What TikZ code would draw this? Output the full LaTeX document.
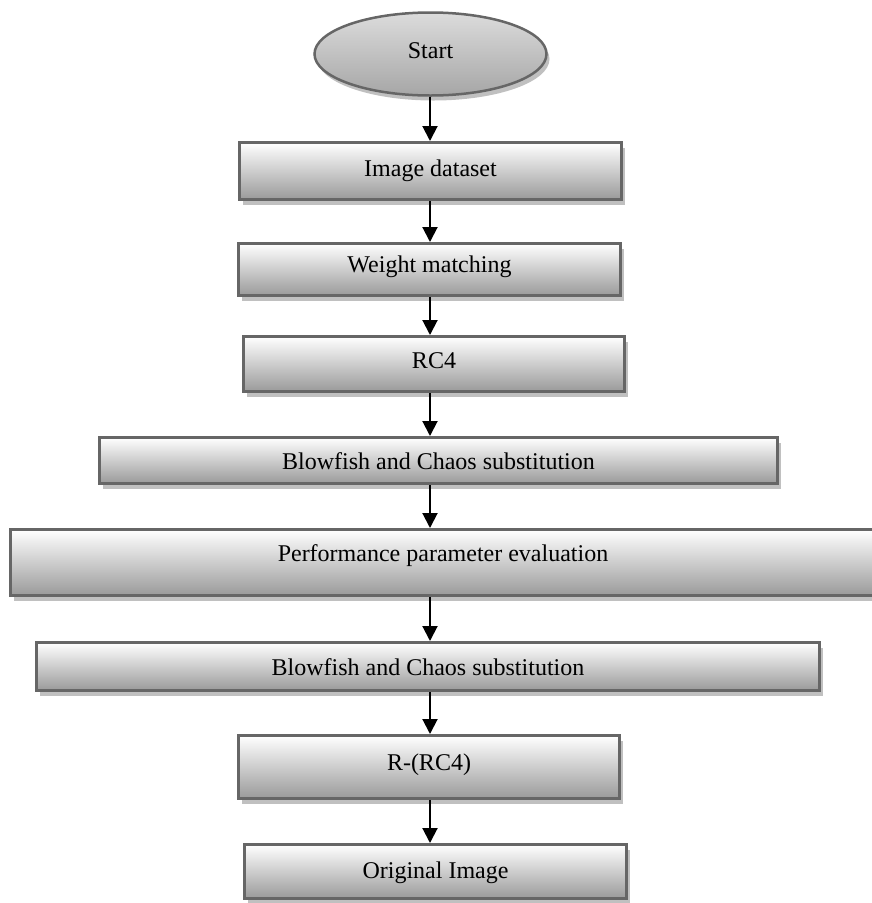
\documentclass[tikz,border=0pt]{standalone}
\usepackage{fontspec}
\setmainfont{Liberation Serif}
\usetikzlibrary{shapes.geometric,shadows,arrows.meta}
\definecolor{bordergray}{HTML}{666666}
\definecolor{shadowgray}{HTML}{C0C0C0}
\definecolor{botgray}{HTML}{9A9A9A}
\definecolor{elltop}{HTML}{DCDCDC}
\definecolor{ellbot}{HTML}{A6A6A6}
\tikzset{
  stepbox/.style={draw=bordergray, line width=3pt, rectangle, inner sep=0pt,
    top color=white, bottom color=botgray,
    drop shadow={shadow xshift=3pt, shadow yshift=-5pt, fill=shadowgray, opacity=1},
    font=\fontsize{24}{28}\selectfont, text height=20pt},
  startbox/.style={draw=bordergray, line width=2.5pt, ellipse, inner sep=0pt,
    top color=elltop, bottom color=ellbot,
    drop shadow={shadow xshift=3pt, shadow yshift=-5pt, fill=shadowgray, opacity=1},
    font=\fontsize{24}{28}\selectfont, text height=20pt},
  arr/.style={line width=2pt, black, -{Triangle[length=15pt,width=15pt]}}
}
\begin{document}
\begin{tikzpicture}[x=1pt,y=-1pt]
\useasboundingbox (0,0) rectangle (871,903);
\coordinate (ax) at (430,0);
\node[startbox, minimum width=232pt, minimum height=83pt, text depth=11pt] (start) at (430.5,54) {Start};
\node[stepbox, minimum width=382pt, minimum height=57pt, text depth=10pt] (b1) at (430.5,171) {Image dataset};
\node[stepbox, minimum width=382pt, minimum height=52pt, text depth=15pt] (b2) at (429.5,269.5) {Weight matching};
\node[stepbox, minimum width=381pt, minimum height=55pt, text depth=12pt] (b3) at (434,364) {RC4};
\node[stepbox, minimum width=678pt, minimum height=46pt, text depth=2pt] (b4) at (438.5,460.5) {Blowfish and Chaos substitution};
\node[stepbox, minimum width=865pt, minimum height=66pt, text depth=22pt] (b5) at (443,562.5) {Performance parameter evaluation};
\node[stepbox, minimum width=783pt, minimum height=48pt, text depth=2pt] (b6) at (428,666.5) {Blowfish and Chaos substitution};
\node[stepbox, minimum width=381pt, minimum height=63pt, text depth=13pt] (b7) at (429,767) {R-(RC4)};
\node[stepbox, minimum width=382pt, minimum height=54pt, text depth=6pt] (b8) at (435.5,871.5) {Original Image};
\draw[arr] (start.south -| ax) -- (b1.north -| ax);
\draw[arr] (b1.south -| ax) -- (b2.north -| ax);
\draw[arr] (b2.south -| ax) -- (b3.north -| ax);
\draw[arr] (b3.south -| ax) -- (b4.north -| ax);
\draw[arr] (b4.south -| ax) -- (b5.north -| ax);
\draw[arr] (b5.south -| ax) -- (b6.north -| ax);
\draw[arr] (b6.south -| ax) -- (b7.north -| ax);
\draw[arr] (b7.south -| ax) -- (b8.north -| ax);
\end{tikzpicture}
\end{document}
